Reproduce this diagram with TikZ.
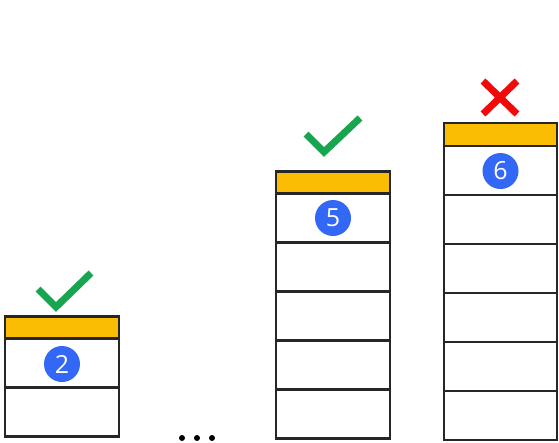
\documentclass[tikz,border=0pt]{standalone}
\usepackage{fontspec}
\setmainfont{Open Sans}
\definecolor{gyellow}{RGB}{251,188,4}
\definecolor{gblue}{RGB}{51,103,246}
\definecolor{ggreen}{RGB}{24,165,80}
\definecolor{gred}{RGB}{240,10,10}
\begin{document}
\begin{tikzpicture}[x=1pt,y=-1pt,
  cell/.style={draw=black!85,line width=2.4pt,fill=white},
  head/.style={draw=black!85,line width=2.4pt,fill=gyellow},
  numc/.style={circle,fill=gblue,text=white,minimum size=36pt,inner sep=0pt,font=\fontsize{25}{25}\selectfont},
  tick/.style={line width=7pt,line cap=butt,line join=miter},
  ]
\useasboundingbox (0,0) rectangle (559,442);
% stack 1
\node[cell,minimum width=114pt,minimum height=49pt,inner sep=0pt] (a3) at (62,412) {};
\node[cell,minimum width=114pt,minimum height=49pt,inner sep=0pt] (a2) at (62,363) {};
\node[head,minimum width=114pt,minimum height=22pt,inner sep=0pt] (a1) at (62,327.5) {};
\node[numc] (n2) at (62,364) {2};
\draw[tick,ggreen] (38,289) -- (56,307) -- (91,273);
% stack 2
\foreach \i/\y in {2/218,3/267,4/316,5/365,6/414}{
  \node[cell,minimum width=114pt,minimum height=49pt,inner sep=0pt] (b\i) at (333,\y) {};
}
\node[head,minimum width=114pt,minimum height=22pt,inner sep=0pt] (b1) at (333,182.5) {};
\node[numc] (n5) at (333,218) {5};
\draw[tick,ggreen] (306,134) -- (324,152) -- (360,118);
% stack 3
\foreach \i/\y in {2/170.5,3/219.5,4/268.5,5/317.5,6/366.5,7/415.5}{
  \node[cell,minimum width=113pt,minimum height=49pt,inner sep=0pt] (c\i) at (500.5,\y) {};
}
\node[head,minimum width=113pt,minimum height=23pt,inner sep=0pt] (c1) at (500.5,134.5) {};
\node[numc] (n6) at (500.5,171) {6};
\draw[tick,gred] (483,81) -- (517,114) (517,81) -- (483,114);
% dots
\foreach \x [count=\k] in {182,197,212}{
  \node[circle,fill=black,minimum size=6pt,inner sep=0pt] (d\k) at (\x,438) {};
}
\end{tikzpicture}
\end{document}
